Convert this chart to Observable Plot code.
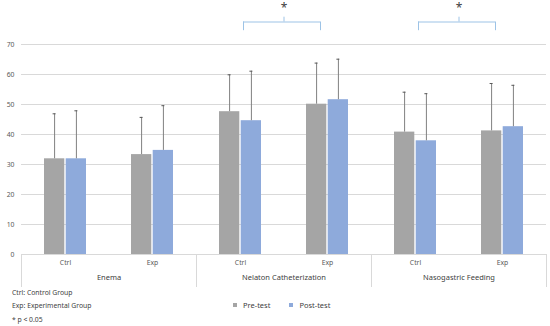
<!DOCTYPE html>
<html>
<head>
<meta charset="utf-8">
<script src="https://cdn.jsdelivr.net/npm/d3@7"></script>
<script src="https://cdn.jsdelivr.net/npm/@observablehq/plot@0.6"></script>
<style>
  html, body { margin: 0; padding: 0; background: #ffffff; }
  body { font-family: "Noto Sans", sans-serif; }
  #wrap { position: relative; width: 550px; height: 326px; overflow: hidden; }
  #notes { position: absolute; left: 12px; top: 286px; font-size: 6.8px; line-height: 13.3px; color: #404040; }
  #legend { position: absolute; left: 233px; top: 300px; height: 10px; display: flex; align-items: center; font-size: 7.5px; color: #404040; }
  #legend .item { display: flex; align-items: center; margin-right: 19px; }
  #legend .sw { width: 4px; height: 4px; margin-right: 6px; }
</style>
</head>
<body>
<div id="wrap">
  <div id="chart"></div>
  <div id="notes"></div>
  <div id="legend"></div>
</div>
<script>
// ---- data ----
const categories = ["Enema", "Nelaton Catheterization", "Nasogastric Feeding"];
const groups = ["Ctrl", "Exp"];
const seriesNames = ["Pre-test", "Post-test"];
// order: Enema Ctrl, Enema Exp, Nelaton Ctrl, Nelaton Exp, Naso Ctrl, Naso Exp
const preMean  = [31.9, 33.3, 47.6, 50.1, 40.8, 41.2];
const preSD    = [15.0, 12.4, 12.3, 13.7, 13.3, 15.8];
const postMean = [31.9, 34.7, 44.6, 51.6, 37.9, 42.6];
const postSD   = [16.0, 14.9, 16.5, 13.5, 15.7, 13.8];
const significant = ["Nelaton Catheterization", "Nasogastric Feeding"];
const yTicks = [0, 10, 20, 30, 40, 50, 60, 70];
const notes = ["Ctrl: Control Group", "Exp: Experimental Group", "* p < 0.05"];

const colors = {"Pre-test": "#a5a5a5", "Post-test": "#8eaadb"};

const rows = [];
categories.forEach((c, ci) => groups.forEach((g, gi) => {
  const i = ci * 2 + gi;
  rows.push({category: c, group: g, pre: preMean[i], preTop: preMean[i] + preSD[i], post: postMean[i], postTop: postMean[i] + postSD[i]});
}));
const sig = significant.map(c => ({category: c}));

// annotation levels (in y units, above the plotted range)
const bracketHigh = 77.5, bracketLow = 74.6, bracketTick = 79.1, starLevel = 82.0;

const half = 10.9; // offset from group-band centre to each bar centre (px)

const chart = Plot.plot({
  width: 550,
  height: 290,
  marginLeft: 20,
  marginRight: 4,
  marginTop: 44,
  marginBottom: 36,
  style: {fontFamily: "Noto Sans", fontSize: "6.8px", color: "#595959", background: "#ffffff", overflow: "visible"},
  fx: {domain: categories, padding: 0, label: null},
  x: {domain: groups, paddingInner: 0.522, paddingOuter: 0.261, label: null},
  y: {domain: [0, 70], label: null},
  marks: [
    Plot.gridY(yTicks, {stroke: "#d9d9d9", strokeOpacity: 1}),
    Plot.axisY(yTicks, {tickSize: 0, tickPadding: 7, label: null, fill: "#595959"}),
    Plot.frame({anchor: "left", insetTop: 210, insetBottom: -32, stroke: "#d9d9d9", strokeOpacity: 1}),
    Plot.frame({anchor: "right", insetTop: 210, insetBottom: -32, stroke: "#d9d9d9", strokeOpacity: 1}),
    Plot.barY(rows, {fx: "category", x: "group", y: "pre", fill: colors["Pre-test"], insetRight: 21.7}),
    Plot.barY(rows, {fx: "category", x: "group", y: "post", fill: colors["Post-test"], insetLeft: 21.7}),
    Plot.ruleX(rows, {fx: "category", x: "group", y1: "pre", y2: "preTop", dx: -half, stroke: "#808080", strokeWidth: 1}),
    Plot.ruleX(rows, {fx: "category", x: "group", y1: "post", y2: "postTop", dx: half, stroke: "#808080", strokeWidth: 1}),
    Plot.tickY(rows, {fx: "category", x: "group", y: "preTop", insetLeft: 8.6, insetRight: 30.4, stroke: "#595959", strokeWidth: 1}),
    Plot.tickY(rows, {fx: "category", x: "group", y: "postTop", insetLeft: 30.4, insetRight: 8.6, stroke: "#595959", strokeWidth: 1}),
    Plot.axisX({tickSize: 0, tickPadding: 6, label: null, fill: "#595959"}),
    Plot.axisFx({anchor: "bottom", tickSize: 0, tickPadding: 20, label: null, fontSize: 7.5, fill: "#404040"}),
    // significance brackets
    Plot.ruleY(sig, {fx: "category", y: () => bracketHigh, x1: () => "Ctrl", x2: () => "Exp", insetLeft: 24, insetRight: 28, stroke: "#9dc3e6", strokeWidth: 1}),
    Plot.ruleX(sig, {fx: "category", x: () => "Ctrl", y1: () => bracketLow, y2: () => bracketHigh, dx: 3, stroke: "#9dc3e6", strokeWidth: 1}),
    Plot.ruleX(sig, {fx: "category", x: () => "Exp", y1: () => bracketLow, y2: () => bracketHigh, dx: -7, stroke: "#9dc3e6", strokeWidth: 1}),
    Plot.ruleX(sig, {fx: "category", x: null, y1: () => bracketHigh, y2: () => bracketTick, stroke: "#9dc3e6", strokeWidth: 1}),
    Plot.text(sig, {fx: "category", y: () => starLevel, text: () => "*", fontSize: 12, fill: "#404040"})
  ]
});
document.getElementById("chart").appendChild(chart);

document.getElementById("notes").innerHTML = notes.map(t => `<div>${t.replace("<", "&lt;")}</div>`).join("");
document.getElementById("legend").innerHTML = seriesNames.map(s =>
  `<div class="item"><div class="sw" style="background:${colors[s]}"></div><span>${s}</span></div>`).join("");
</script>
</body>
</html>
